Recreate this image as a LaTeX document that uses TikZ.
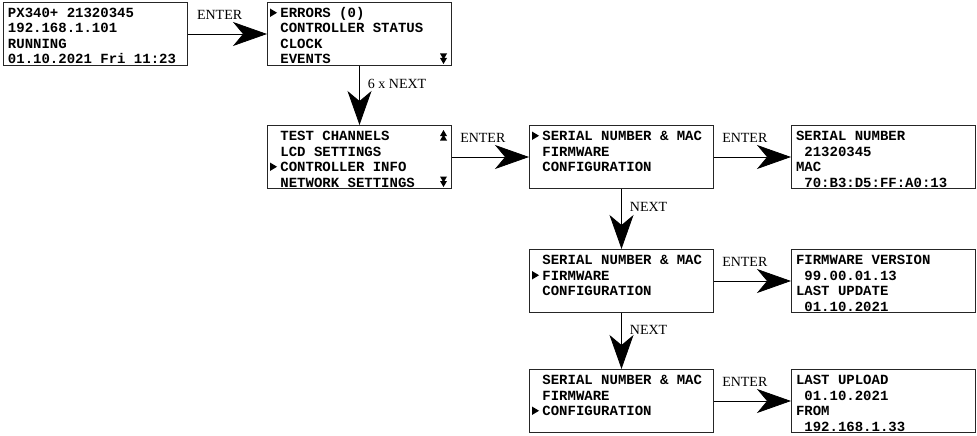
\documentclass[tikz,border=0pt]{standalone}
\usepackage{fontspec}
\setmainfont{Liberation Serif}
\setmonofont{Liberation Mono}
\usepackage{tikz}
\usetikzlibrary{arrows.meta,positioning}
\newcommand{\lcdfont}{\ttfamily\bfseries\fontsize{14}{15.5}\selectfont}
\newcommand{\blank}{\hspace*{0.6em}}
\newcommand{\cursor}{\makebox[0.6em][l]{\hspace*{-2pt}\tikz[baseline=0pt]\fill (0pt,0.5pt) -- (0pt,9pt) -- (7pt,4.75pt) -- cycle;}}
\newcommand{\scrollup}{\tikz[baseline=0pt]{\fill (0pt,4.5pt) -- (7pt,4.5pt) -- (3.5pt,10.5pt) -- cycle;
    \fill (0pt,0pt) -- (7pt,0pt) -- (3.5pt,6pt) -- cycle;}}
\newcommand{\scrolldown}{\tikz[baseline=0pt]{\fill (0pt,10.5pt) -- (7pt,10.5pt) -- (3.5pt,4.5pt) -- cycle;
    \fill (0pt,6pt) -- (7pt,6pt) -- (3.5pt,0pt) -- cycle;}}
\tikzstyle{lcdbox} = [draw=black!85, line width=1pt, anchor=north west, align=flush left, text width=175pt,
    inner xsep=4.5pt, inner ysep=1pt, text height=14pt, text depth=47pt, font=\lcdfont]
\tikzstyle{keylabel} = [font=\fontsize{14}{16}\selectfont, inner sep=2pt]
\tikzstyle{keyarrow} = [-{Stealth[length=34pt,width=24pt,inset=10pt]}, line width=0.8pt]

\begin{document}
\begin{tikzpicture}[x=1pt,y=-1pt]
    \useasboundingbox (0,0) rectangle (977,436);
    \node[lcdbox] (status) at (3,2) {PX340+ 21320345\\192.168.1.101\\RUNNING\\01.10.2021 Fri 11:23};
    \node[lcdbox, right=79pt of status] (mainmenu) {\cursor ERRORS (0)\\\blank CONTROLLER STATUS\\\blank CLOCK\\\blank EVENTS\hfill\scrolldown};
    \node[lcdbox, below=59pt of mainmenu] (scrollmenu) {\blank TEST CHANNELS\hfill\scrollup\\\blank LCD SETTINGS\\\cursor CONTROLLER INFO\\\blank NETWORK SETTINGS\hfill\scrolldown};
    % controller info
    \node[lcdbox, right=77pt of scrollmenu] (infosn) {\cursor SERIAL NUMBER \& MAC\\\blank FIRMWARE\\\blank CONFIGURATION};
    \node[lcdbox, right=77pt of infosn] (showsn) {SERIAL NUMBER\\\blank 21320345\\MAC\\\blank 70:B3:D5:FF:A0:13};
    \node[lcdbox, below=60pt of infosn] (infofw) {\blank SERIAL NUMBER \& MAC\\\cursor FIRMWARE\\\blank CONFIGURATION};
    \node[lcdbox, right=77pt of infofw] (showfw) {FIRMWARE VERSION\\\blank 99.00.01.13\\LAST UPDATE\\\blank 01.10.2021};
    \node[lcdbox, below=56pt of infofw] (infocfg) {\blank SERIAL NUMBER \& MAC\\\blank FIRMWARE\\\cursor CONFIGURATION};
    \node[lcdbox, right=77pt of infocfg] (showcfg) {LAST UPLOAD\\\blank 01.10.2021\\FROM\\\blank 192.168.1.33};
    % keys
    \draw[keyarrow] (status) -- node[keylabel, above=12pt, pos=0.4] {ENTER} (mainmenu);
    \draw[keyarrow] (mainmenu) -- node[keylabel, right=6pt, pos=0.3] {6 x NEXT} (scrollmenu);
    \draw[keyarrow] (scrollmenu) -- node[keylabel, above=12pt, pos=0.4] {ENTER} (infosn);
    \draw[keyarrow] (infosn) -- node[keylabel, above=12pt, pos=0.4] {ENTER} (showsn);
    \draw[keyarrow] (infosn) -- node[keylabel, right=6pt, pos=0.3] {NEXT} (infofw);
    \draw[keyarrow] (infofw) -- node[keylabel, above=12pt, pos=0.4] {ENTER} (showfw);
    \draw[keyarrow] (infofw) -- node[keylabel, right=6pt, pos=0.3] {NEXT} (infocfg);
    \draw[keyarrow] (infocfg) -- node[keylabel, above=12pt, pos=0.4] {ENTER} (showcfg);
\end{tikzpicture}
\end{document}
